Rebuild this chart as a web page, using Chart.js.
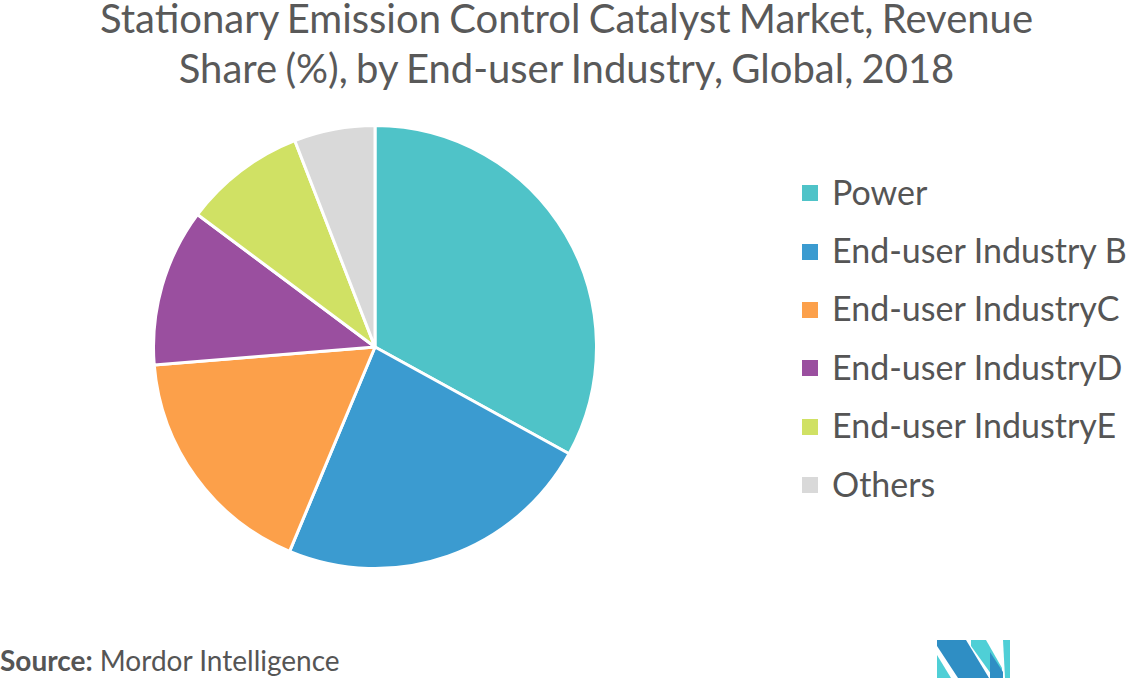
<!DOCTYPE html>
<html>
<head>
<meta charset="utf-8">
<title>Stationary Emission Control Catalyst Market</title>
<script src="https://cdn.jsdelivr.net/npm/chart.js@4.4.1/dist/chart.umd.min.js"></script>
<style>
  html, body { margin: 0; padding: 0; background: #fff; }
  body { width: 1133px; height: 678px; position: relative; overflow: hidden; font-family: Lato, "Open Sans", sans-serif; color: #555; }
  #title { position: absolute; left: 0; top: -7px; width: 1133px; text-align: center; font-size: 40px; line-height: 50px; word-spacing: -2px; color: #595959; }
  #pie-wrap { position: absolute; left: 152px; top: 124px; width: 446px; height: 446px; }
  #legend { position: absolute; left: 802px; top: 162px; margin: 0; padding: 0; list-style: none; }
  #legend li { height: 58.4px; display: flex; align-items: center; font-size: 34px; white-space: nowrap; }
  #legend .box { width: 16px; height: 16px; margin-right: 14px; flex: none; position: relative; top: 2px; }
  #source { position: absolute; left: 0; top: 643px; font-size: 28px; line-height: 34px; color: #555; }
  #source b { font-weight: 700; }
  #logo { position: absolute; left: 0; top: 0; }
</style>
</head>
<body>
<div id="title">Stationary Emission Control Catalyst Market, Revenue<br>Share (%), by End-user Industry, Global, 2018</div>
<div id="pie-wrap"><canvas id="pie"></canvas></div>
<ul id="legend"></ul>
<div id="source"><b>Source:</b> Mordor Intelligence</div>
<svg id="logo" width="1133" height="678">
  <polygon points="937,655 937,678 951,678" fill="#4fcfd6"/>
  <polygon points="937,640 966,640 989,678 958,678 937,646" fill="#2f8ec4"/>
  <polygon points="971,640 986,640 1002,668 1002,678 994,678 971,646" fill="#4fcfd6"/>
  <polygon points="1003,640 1010,640 1010,678 1005,678" fill="#4fcfd6"/>
  <polygon points="990,652 1003,672 1003,678 990,678" fill="#2f8ec4"/>
</svg>

<script>
const industries = ['Power', 'End-user Industry B', 'End-user IndustryC', 'End-user IndustryD', 'End-user IndustryE', 'Others'];
const shares = [33, 23.3, 17.4, 11.5, 8.9, 5.9];
const sliceColors = ['#4fc3c8', '#3b9bd0', '#fca04a', '#9a4f9f', '#d0e164', '#d9d9d9'];

document.addEventListener('DOMContentLoaded', () => {
    const legendList = document.getElementById('legend');

    const pieChart = new Chart(document.getElementById('pie'), {
        type: 'pie',
        data: {
            labels: industries,
            datasets: [{
                data: shares,
                backgroundColor: sliceColors,
                borderColor: '#ffffff',
                borderWidth: 3
            }]
        },
        options: {
            responsive: true,
            maintainAspectRatio: false,
            animation: false,
            devicePixelRatio: 1,
            layout: { padding: 0 },
            plugins: {
                legend: { display: false },
                tooltip: { enabled: false }
            }
        }
    });

    // legend built from the chart's own labels and colours
    pieChart.data.labels.forEach((label, i) => {
        const item = document.createElement('li');
        const box = document.createElement('span');
        box.className = 'box';
        box.style.background = pieChart.data.datasets[0].backgroundColor[i];
        item.appendChild(box);
        item.appendChild(document.createTextNode(label));
        legendList.appendChild(item);
    });
});
</script>
</body>
</html>
